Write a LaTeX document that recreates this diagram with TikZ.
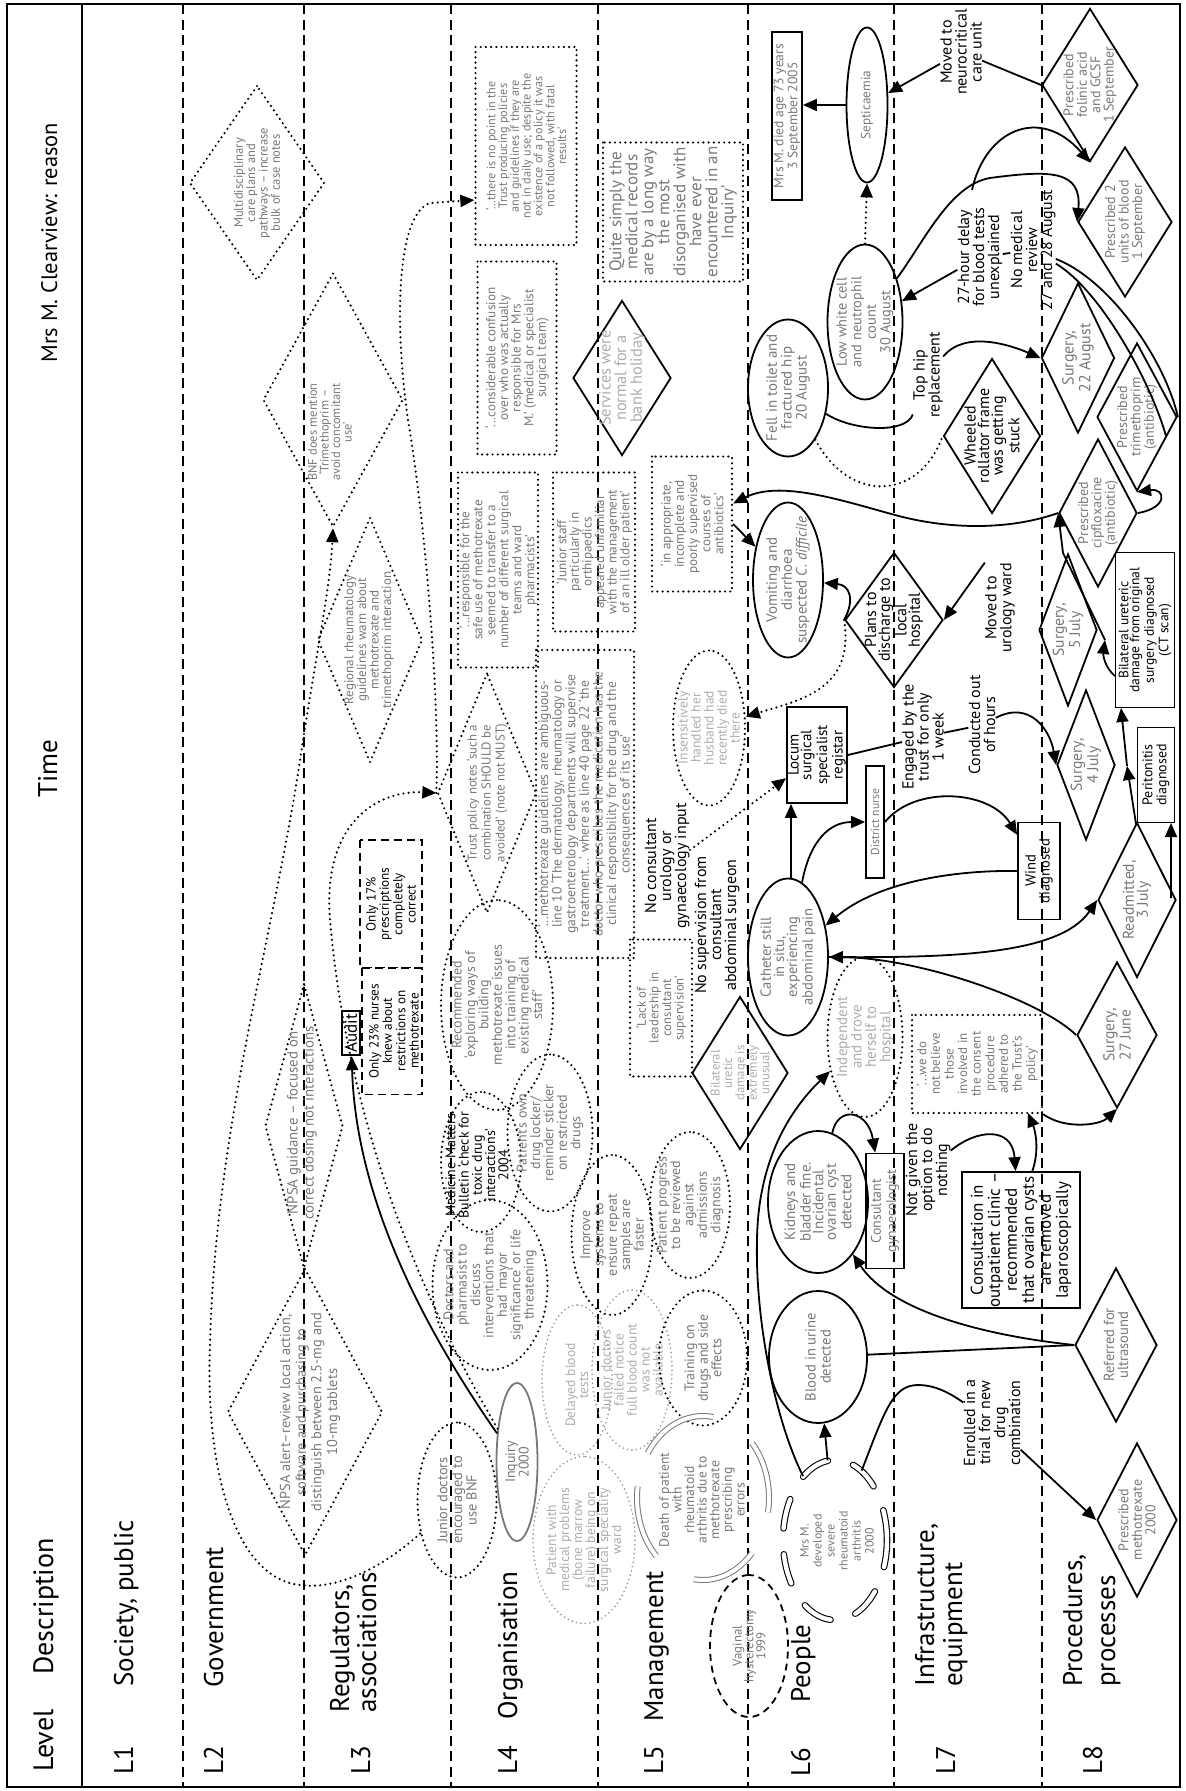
\documentclass[tikz,border=0pt]{standalone}
\usepackage{fontspec}
\setmainfont{PT Sans}
\usetikzlibrary{arrows.meta,shapes.geometric,calc}
\definecolor{tgray}{HTML}{787878}
\definecolor{tlight}{HTML}{ADADAD}
\newcommand\fsz[2]{\fontsize{#1}{#2}\selectfont}
\begin{document}
\begin{tikzpicture}[x=0.5pt,y=-0.5pt,
 every node/.style={rotate=90},
 sz/.style 2 args={minimum width={#2*0.5pt},minimum height={#1*0.5pt}},
 ell/.style={ellipse,inner sep=0pt},
 dia/.style={diamond,inner sep=0pt},
 rec/.style={rectangle,inner sep=0pt},
 sld/.style={draw,line width=0.9pt},
 dtt/.style={draw,line width=1.2pt,line cap=round,dash pattern=on 0pt off 2.6pt},
 ldt/.style={draw=tgray!80,line width=0.9pt,line cap=round,dash pattern=on 0pt off 2.2pt},
 dsh/.style={draw,line width=0.9pt,dash pattern=on 4pt off 2.5pt},
 lane/.style={line width=0.8pt,dash pattern=on 5pt off 2.8pt},
 con/.style={line width=0.9pt},
 arr/.style={-{Triangle[length=7pt,width=6pt]}},
 txt/.style={align=center,inner sep=0pt,font=\fsz{7}{6.8}},
 gtx/.style={txt,text=tgray},
 ltx/.style={txt,text=tlight},
 lbl/.style={txt,font=\fsz{8}{7.5}},
 lvl/.style={inner sep=0pt,font=\fsz{13.5}{14}},
]
\useasboundingbox (0,0) rectangle (1185,1791);
% frame
\draw[line width=1pt] (7,4) rectangle (1180,1787);
\draw[line width=1pt] (82,4) -- (82,1787);
\foreach \x in {183,304,451,598,748,894,1042} \draw[lane] (\x,4) -- (\x,1787);

% headers
\node[lvl,anchor=base west,font=\fsz{11.2}{14}] (hMrs) at (57,363) {Mrs M. Clearview: reason};
\node[lvl,anchor=base west,font=\fsz{13.5}{14}] (hTime) at (57,798) {Time};
\node[lvl,anchor=base west,font=\fsz{14}{14}] (hLevel) at (53,1772) {Level};
\node[lvl,anchor=base west,font=\fsz{14}{14}] (hDesc) at (53,1675) {Description};
% level labels
\node[lvl,anchor=base west] (l1) at (133,1775) {L1};
\node[lvl,anchor=base west] (d1) at (133,1687) {Society, public};
\node[lvl,anchor=base west] (l2) at (223,1775) {L2};
\node[lvl,anchor=base west] (d2) at (223,1688) {Government};
\node[lvl,anchor=base west] (l3) at (370,1775) {L3};
\node[lvl,anchor=base west] (d3a) at (349,1713) {Regulators,};
\node[lvl,anchor=base west] (d3b) at (376,1713) {associations};
\node[lvl,anchor=base west] (l4) at (517,1775) {L4};
\node[lvl,anchor=base west] (d4) at (517,1720) {Organisation};
\node[lvl,anchor=base west] (l5) at (663,1775) {L5};
\node[lvl,anchor=base west] (d5) at (663,1722) {Management};
\node[lvl,anchor=base west] (l6) at (810,1777) {L6};
\node[lvl,anchor=base west] (d6) at (810,1703) {People};
\node[lvl,anchor=base west] (l7) at (955,1775) {L7};
\node[lvl,anchor=base west] (d7a) at (934,1687) {Infrastructure,};
\node[lvl,anchor=base west] (d7b) at (962,1687) {equipment};
\node[lvl,anchor=base west] (l8) at (1102,1775) {L8};
\node[lvl,anchor=base west] (d8a) at (1082,1687) {Procedures,};
\node[lvl,anchor=base west] (d8b) at (1115,1687) {processes};

% ---------- L2/L3 ----------
\node[dia,dtt,sz={135}{195}] (multi) at (257,183) {};
\node[gtx,font=\fsz{6.3}{6.2}] (multiT) at (257,183) {Multidisciplinary\\care plans and\\pathways – increase\\bulk of case notes};
\node[dia,dtt,sz={140}{254}] (bnf) at (333,400) {};
\node[gtx,font=\fsz{6.2}{5.8}] (bnfT) at (330,432) {BNF does mention\\‘Trimethoprim –\\avoid concomitant\\use’};
\node[dia,dtt,sz={105}{245}] (regional) at (370,640) {};
\node[gtx,font=\fsz{6.5}{6.3}] (regionalT) at (369,640) {Regional rheumatology\\guidelines warn about\\methotrexate and\\trimethoprim interaction};
\node[dia,dtt,sz={78}{285}] (npsag) at (304,1126) {};
\node[gtx,font=\fsz{7.4}{8}] (npsagT) at (302,1123) {NPSA guidance – focused on\\correct dosing not interactions};
\node[dia,dtt,sz={155}{287}] (npsaa) at (305,1412) {};
\node[gtx,font=\fsz{7.2}{7.8}] (npsaaT) at (310,1412) {NPSA alert–review local action,\\software and purchasing to\\distinguish between 2.5-mg and\\10-mg tablets};
\node[ell,dtt,sz={79}{155}] (jrbnf) at (457,1500) {};
\node[gtx,font=\fsz{7.2}{7.3}] (jrbnfT) at (457,1500) {Junior doctors\\encouraged to\\use BNF};
\node[ell,draw=tgray,line width=0.9pt,sz={41}{158}] (inquiry) at (517,1462) {};
\node[gtx] (inquiryT) at (517,1462) {Inquiry\\2000};
\node[rec,dsh,sz={62}{128}] (only17) at (391,904) {};
\node[txt,font=\fsz{6.6}{6.7}] (only17T) at (391,904) {Only 17\%\\prescriptions\\completely\\correct};
\node[rec,dsh,sz={60}{127}] (only23) at (392,1031) {};
\node[txt,font=\fsz{6.6}{6.7}] (only23T) at (394,1031) {Only 23\% nurses\\knew about\\restrictions on\\methotrexate};
\node[rec,sld,inner sep=1.5pt,font=\fsz{8.5}{8.5}] (audit) at (351,1033) {Audit};

% ---------- L4 ----------
\node[rec,dtt,sz={101}{198}] (noPoint) at (526,146) {};
\node[gtx,font=\fsz{6.1}{5.9}] (noPointT) at (526,146) {‘...there is no point in the\\Trust producing policies\\and guidelines if they are\\not in daily use; despite the\\existence of a policy it was\\not followed, with fatal\\results’};
\node[rec,dtt,sz={79}{193}] (confusion) at (517,358) {};
\node[gtx,font=\fsz{6.6}{6.3}] (confusionT) at (517,358) {‘...considerable confusion\\over who was actually\\responsible for Mrs\\M.’ (medical or specialist\\surgical team)};
\node[rec,dtt,sz={80}{195}] (respSafe) at (498,570) {};
\node[gtx,font=\fsz{6.6}{6.5}] (respSafeT) at (498,570) {‘...responsible for the\\safe use of methotrexate\\seemed to transfer to a\\number of different surgical\\teams and ward\\pharmacists’};
\node[dia,dtt,sz={99}{240}] (trust) at (487,793) {};
\node[gtx,font=\fsz{6.4}{7}] (trustT) at (487,793) {Trust policy notes ‘such a\\combination SHOULD be\\avoided’ (note not MUST)};
\node[ell,dtt,sz={112}{210}] (recom) at (497,1005) {};
\node[gtx,font=\fsz{7}{6.7}] (recomT) at (497,1005) {Recommended\\‘exploring ways of\\building\\methotrexate issues\\into training of\\existing medical\\staff’};
\node[ell,dtt,sz={80}{140}] (medMat) at (481,1162) {};
\node[txt,font=\fsz{7}{6.6}] (medMatT) at (477,1165) {Medicine Matters\\Bulletin ‘check for\\toxic drug\\interactions’\\2004};
\node[ell,dtt,sz={85}{157}] (ownDrug) at (550,1133) {};
\node[gtx,font=\fsz{7}{6.7}] (ownDrugT) at (550,1133) {Patient’s own\\drug locker/\\reminder sticker\\on restricted\\drugs};
\node[ell,dtt,sz={115}{170}] (doctors) at (490,1285) {};
\node[gtx,font=\fsz{7}{6.7}] (doctorsT) at (490,1285) {Doctors and\\pharmasist to\\discuss\\interventions that\\had ‘mayor\\significance’ or life\\threatening};
\node[ell,ldt,sz={102}{167}] (patMed) at (584,1540) {};
\node[ltx,font=\fsz{6.8}{6.5}] (patMedT) at (584,1540) {Patient with\\medical problems\\(bone marrow\\failure) being on\\surgical speciality\\ward};
\node[ell,ldt,sz={70}{150}] (delayed) at (577,1380) {};
\node[ltx,font=\fsz{6.8}{6.5}] (delayedT) at (577,1385) {Delayed blood\\tests};
\node[ell,ldt,sz={80}{160}] (jrFail) at (632,1370) {};
\node[ltx,font=\fsz{6.8}{6.5}] (jrFailT) at (632,1370) {Junior doctors\\failed notice\\full blood count\\was not\\available};
\node[ell,dtt,sz={81}{160}] (improve) at (612,1235) {};
\node[gtx,font=\fsz{7}{6.7}] (improveT) at (612,1235) {Improve\\systems to\\ensure repeat\\samples are\\faster};
\node[ell,dtt,sz={80}{146}] (progress) at (690,1205) {};
\node[gtx,font=\fsz{7}{6.7}] (progressT) at (690,1205) {Patient progress\\to be reviewed\\against\\admissions\\diagnosis};
\node[ell,dtt,sz={88}{135}] (training) at (703,1358) {};
\node[gtx,font=\fsz{7}{6.7}] (trainingT) at (703,1358) {Training on\\drugs and side\\effects};
% death of patient (double gray arcs)
\foreach \a/\b in {81/147,172/225,262/318,-10/42}
  \draw[tgray,line width=0.5pt,double=white,double distance=2pt] plot[domain=\a:\b,samples=25,smooth] ({703+66*cos(\x)},{1498-82*sin(\x)});
\node[gtx,font=\fsz{6.8}{6.3}] (deathT) at (702,1500) {Death of patient\\with\\rheumatoid\\arthritis due to\\methotrexate\\prescribing\\errors};
\node[ell,draw,line width=0.9pt,dash pattern=on 3.5pt off 2.5pt,sz={78}{142}] (vaginal) at (749,1646) {};
\node[gtx,font=\fsz{6.4}{5.9}] (vaginalT) at (749,1646) {Vaginal\\hysterectomy\\1999};

% ---------- L5 ----------
\node[rec,dtt,sz={98}{308}] (methGuide) at (585,804) {};
\node[gtx,font=\fsz{6.8}{6.8}] (methGuideT) at (585,804) {‘...methotrexate guidelines are ambiguous-\\line 10 ‘The dermatology, rheumatology or\\gastroenterology departments will supervise\\treatment...’ where as line 40 page 22 ‘the\\doctor who prescribes the medication has the\\clinical responsibility for the drug and the\\consequences of its use’};
\node[rec,dtt,sz={82}{159}] (juniorStaff) at (594,552) {};
\node[gtx,font=\fsz{6.6}{6.3}] (juniorStaffT) at (594,552) {‘Junior staff\\particularly in\\orthipaedics\\appeared unfamiliar\\with the management\\of an ill older patient’};
\node[dia,sld,sz={98}{155}] (services) at (622,378) {};
\node[ltx,font=\fsz{8.2}{7.8}] (servicesT) at (622,378) {Services were\\normal for a\\bank holiday};
\node[rec,dtt,sz={140}{139}] (quite) at (673,212) {};
\node[gtx,font=\fsz{8.5}{8}] (quiteT) at (673,212) {Quite simply the\\medical records\\are by a long way\\the most\\disorganised with\\have ever\\encountered in an\\Inquiry’};
\node[rec,dtt,sz={80}{135}] (inapp) at (692,524) {};
\node[gtx,font=\fsz{6.6}{6.6}] (inappT) at (692,524) {‘in appropriate,\\incomplete and\\poorly supervised\\courses of\\antibiotics’};
\node[rec,dtt,sz={62}{137}] (lack) at (661,1008) {};
\node[gtx,font=\fsz{6.4}{6.3}] (lackT) at (661,1008) {‘Lack of\\leadership in\\consultant\\supervision’};
\node[lbl] (noCons) at (667,866) {No consultant\\urology or\\gynaecology input};
\node[lbl] (noSup) at (717,925) {No supervision from\\consultant\\abdominal surgeon};
\node[ell,dtt,sz={72}{155}] (insens) at (709,728) {};
\node[ltx,font=\fsz{6.8}{6.5}] (insensT) at (709,728) {Insensitively\\handled her\\husband had\\recently died\\there};
\node[dia,sld,sz={96}{153}] (bilatUn) at (740,1073) {};
\node[ltx,font=\fsz{6.4}{6.2}] (bilatUnT) at (740,1073) {Bilateral\\uretic\\damage is\\extremely\\unusual};

% ---------- L6 ----------
\node[rec,sld,sz={30}{168}] (died) at (787,116) {};
\node[gtx,font=\fsz{6.8}{7}] (diedT) at (787,116) {Mrs M. died age 73 years\\3 September 2005};
\node[ell,sld,sz={41}{155}] (septic) at (867,105) {};
\node[gtx,font=\fsz{6.6}{6.6}] (septicT) at (867,105) {Septicaemia};
\node[ell,sld,sz={75}{155}] (lowWhite) at (865,322) {};
\node[gtx,font=\fsz{7.2}{7.3}] (lowWhiteT) at (865,322) {Low white cell\\and neutrophil\\count\\30 August};
\node[ell,sld,sz={80}{137}] (fell) at (788,388) {};
\node[gtx,font=\fsz{7.5}{7.4}] (fellT) at (788,388) {Fell in toilet and\\fractured hip\\20 August};
\node[ell,sld,sz={70}{155}] (vomit) at (788,580) {};
\node[gtx,font=\fsz{7.5}{7.4}] (vomitT) at (788,580) {Vomiting and\\diarrhoea\\suspected \textit{C. difficile}};
\node[dia,sld,sz={98}{135}] (plans) at (894,620) {};
\node[txt,font=\fsz{8}{6.8}] (plansT) at (894,620) {Plans to\\discharge to\\local\\hospital};
\node[rec,sld,sz={60}{96}] (locum) at (817,755) {};
\node[txt,font=\fsz{7.5}{6.3}] (locumT) at (817,755) {Locum\\surgical\\specialist\\registar};
\node[rec,sld,sz={18}{112}] (district) at (875,822) {};
\node[gtx,font=\fsz{5.8}{6}] (districtT) at (875,822) {District nurse};
\node[ell,sld,sz={80}{157}] (catheter) at (788,957) {};
\node[gtx,font=\fsz{7.3}{6.6}] (catheterT) at (788,957) {Catheter still\\in situ,\\experiencing\\abdominal pain};
\node[ell,dtt,sz={75}{160}] (indep) at (865,1037) {};
\node[ltx,font=\fsz{7.5}{7.2}] (indepT) at (865,1037) {Independent\\and drove\\herself to\\hospital};
\node[ell,sld,sz={100}{142}] (kidneys) at (818,1202) {};
\node[gtx,font=\fsz{7.5}{6.3}] (kidneysT) at (818,1202) {Kidneys and\\bladder fine.\\Incidental\\ovarian cyst\\detected};
\node[rec,sld,sz={38}{115}] (consGyn) at (885,1211) {};
\node[gtx,font=\fsz{7}{7.6}] (consGynT) at (885,1211) {Consultant\\gynaecologist};
\node[ell,sld,sz={98}{132}] (blood) at (818,1357) {};
\node[gtx,font=\fsz{7.3}{7.5}] (bloodT) at (818,1357) {Blood in urine\\detected};
\node[ell,sz={105}{160}] (mrsM) at (835,1540) {};
\draw[line width=0.55pt,double=white,double distance=2.2pt,line cap=round,dash pattern=on 15pt off 13pt] plot[domain=0:360,samples=73,smooth] ({835+52*cos(\x)},{1540-80*sin(\x)});
\node[gtx,font=\fsz{6}{6.5}] (mrsMT) at (837,1541) {Mrs M.\\developed\\severe\\rheumatoid\\arthritis\\2000};

% ---------- L7 ----------
\node[lbl] (neuroLbl) at (961,52) {Moved to\\neurocritical\\care unit};
\node[lbl] (delayLbl) at (980,257) {27-hour delay\\for blood tests\\unexplained};
\node[lbl] (noRevLbl) at (1033,250) {No medical\\review\\27 and 28 August};
\node[lbl] (topHipLbl) at (928,375) {Top hip\\replacement};
\node[dia,sld,sz={97}{155}] (wheeled) at (992,436) {};
\node[txt,font=\fsz{8}{6.8}] (wheeledT) at (992,436) {Wheeled\\rollator frame\\was getting\\stuck};
\node[lbl] (urologyLbl) at (1000,608) {Moved to\\urology ward};
\node[lbl] (engagedLbl) at (923,737) {Engaged by the\\trust for only\\1 week};
\node[lbl] (conductedLbl) at (982,725) {Conducted out\\of hours};
\node[rec,sld,sz={42}{97}] (wind) at (1039,871) {};
\node[txt,font=\fsz{7.3}{7}] (windT) at (1039,871) {Wind\\diagnosed};
\node[lbl] (notGivenLbl) at (928,1170) {Not given the\\option to do\\nothing};
\node[rec,dtt,sz={130}{98}] (weDoNot) at (977,1064) {};
\node[gtx,font=\fsz{6.5}{6.8}] (weDoNotT) at (977,1064) {‘...we do\\not believe\\those\\involved in\\the consent\\procedure\\adhered to\\the Trust’s\\policy’};
\node[rec,sld,sz={118}{136}] (consult) at (1021,1240) {};
\node[txt,font=\fsz{8.5}{8.5}] (consultT) at (1021,1240) {Consultation in\\outpatient clinic –\\recommended\\that ovarian cysts\\are removed\\laparoscopically};
\node[lbl] (enrolledLbl) at (992,1423) {Enrolled in a\\trial for new\\drug\\combination};

% ---------- L8 ----------
\node[dia,sld,sz={96}{153}] (folinic) at (1090,85) {};
\node[gtx,font=\fsz{7}{6.7}] (folinicT) at (1090,85) {Prescribed\\folinic acid\\and GCSF\\1 September};
\node[dia,sld,sz={94}{150}] (units) at (1125,222) {};
\node[gtx,font=\fsz{7}{6.7}] (unitsT) at (1125,222) {Prescribed 2\\units of blood\\1 September};
\node[dia,sld,sz={73}{150}] (surg22) at (1078,358) {};
\node[gtx,font=\fsz{8}{7}] (surg22T) at (1078,358) {Surgery,\\22 August};
\node[dia,sld,sz={80}{148}] (trimeth) at (1137,417) {};
\node[gtx,font=\fsz{7}{6.7}] (trimethT) at (1137,417) {Prescribed\\trimethoprim\\(antibiotic)};
\node[dia,sld,sz={78}{148}] (cipflox) at (1098,513) {};
\node[gtx,font=\fsz{7}{6.7}] (cipfloxT) at (1098,513) {Prescribed\\cipfloxacine\\(antibiotic)};
\node[dia,sld,sz={58}{152}] (surg5) at (1068,630) {};
\node[gtx,font=\fsz{7.8}{6.8}] (surg5T) at (1068,630) {Surgery,\\5 July};
\node[rec,sld,sz={59}{155}] (bilat) at (1145,630) {};
\node[txt,font=\fsz{6.8}{5.5}] (bilatT) at (1145,630) {Bilateral ureteric\\damage from original\\surgery diagnosed\\(CT scan)};
\node[dia,sld,sz={58}{150}] (surg4) at (1086,765) {};
\node[gtx,font=\fsz{7.8}{6.8}] (surg4T) at (1086,765) {Surgery,\\4 July};
\node[rec,sld,sz={37}{95}] (perit) at (1156,775) {};
\node[txt,font=\fsz{7}{7}] (peritT) at (1156,775) {Peritonitis\\diagnosed};
\node[dia,sld,sz={78}{155}] (readm) at (1137,900) {};
\node[gtx,font=\fsz{7.8}{7}] (readmT) at (1137,900) {Readmitted,\\3 July};
\node[dia,sld,sz={80}{146}] (surg27) at (1117,1035) {};
\node[gtx,font=\fsz{7.8}{7}] (surg27T) at (1117,1035) {Surgery,\\27 June};
\node[dia,sld,sz={82}{154}] (referred) at (1116,1345) {};
\node[gtx,font=\fsz{7.3}{7}] (referredT) at (1116,1345) {Referred for\\ultrasound};
\node[dia,sld,sz={80}{154}] (presMeth) at (1137,1520) {};
\node[gtx,font=\fsz{7}{6.7}] (presMethT) at (1137,1520) {Prescribed\\methotrexate\\2000};

% ---------- connectors ----------
\draw[dtt,arr] (jrbnf) .. controls (380,1570) and (335,1590) .. (300,1585) .. controls (235,1578) and (205,1470) .. (210,1345) .. controls (215,1130) and (275,930) .. (300,760) .. controls (315,660) and (330,590) .. (bnf.west);
\coordinate (npIn) at ($(noPoint.north)+(0,54)$);
\draw[dtt,arr] (trust.north) .. controls (440,700) and (425,520) .. (408,420) .. controls (395,330) and (395,215) .. (430,203) -- (npIn);
\draw[dtt,arr] (inquiry) .. controls (440,1330) and (350,1150) .. (330,920) .. controls (322,820) and (380,790) .. (trust.north);
\draw[con,arr] (inquiry) .. controls (425,1330) and (356,1200) .. (audit);
\draw[dtt,arr] (plans.north) .. controls (855,690) and (800,700) .. (insens);
\coordinate (supEnd) at (690,850);
\draw[dtt,arr] (supEnd) -- (locum);

\draw[con,arr] (septic.north) -- (septic.north -| died.south);
\draw[dtt,arr] (lowWhite.east) -- (septic.west);
\draw[con] (folinic.north) -- (neuroLbl);
\draw[con,arr] (neuroLbl) -- (septic);
\draw[con,arr] (delayLbl) -- (lowWhite);
\draw[con] (delayLbl) -- (noRevLbl);
\draw[con,arr] (lowWhite) .. controls (925,240) and (950,185) .. (990,178) .. controls (1050,170) and (1082,170) .. (units.north);
\coordinate (brA) at (972,190);
\draw[con,arr] (brA) .. controls (985,130) and (1040,105) .. (folinic.west);
\draw[con] (noRevLbl) .. controls (1110,280) and (1165,360) .. (trimeth.south);
\coordinate (trE) at (1166,436);
\draw[con] (noRevLbl) .. controls (1100,290) and (1150,380) .. (trE);
\draw[con,arr] (cipflox.south) .. controls (1168,508) and (1166,488) .. (trimeth.west);
\draw[con] (fell) .. controls (850,430) and (905,435) .. (topHipLbl);
\draw[con,arr] (topHipLbl) .. controls (965,330) and (1010,345) .. (surg22.north);
\draw[dtt] (fell) .. controls (850,505) and (920,500) .. (wheeled.north);
\draw[con,arr] (cipflox.north) .. controls (1010,530) and (950,530) .. (895,515) .. controls (840,500) and (780,480) .. (inapp);
\draw[con,arr] (inapp.south) -- (vomit);
\draw[con,arr] (plans.north) .. controls (855,600) and (850,585) .. (vomit);
\draw[con,arr] (urologyLbl.north east) -- (plans.south);
\draw[con,arr] ($(catheter.east)+(3,0)$) -- ($(catheter.east |- locum.west)+(3,0)$);
\draw[con,arr] (catheter) .. controls (810,840) and (830,822) .. (district.north);
\draw[con,arr] (district.south) .. controls (915,785) and (990,790) .. (wind);
\draw[con,arr] (wind.north) .. controls (960,870) and (880,880) .. (catheter);
\draw[con,arr] (surg27.north) .. controls (1040,1000) and (920,958) .. (catheter.south);
\draw[con,arr] (catheter.south) .. controls (950,958) and (1060,955) .. (readm.north);
\draw[con,arr] (weDoNot.south west) .. controls (1065,1130) and (1100,1125) .. (surg27.west);
\coordinate (cA) at (1032,1172);
\coordinate (cB) at (1028,1113);
\draw[con,arr] (cA) .. controls (1040,1150) and (1035,1130) .. (cB);
\draw[con,arr] (notGivenLbl) .. controls (975,1130) and (1012,1125) .. (consult);
\draw[con,arr] (kidneys) .. controls (838,1105) and (868,1110) .. (consGyn);
\draw[con,arr] (referred.north) .. controls (980,1335) and (890,1310) .. (kidneys);
\draw[con] (blood) -- (referred.north);
\draw[con,arr] (mrsM) -- (blood);
\draw[con] (mrsM) .. controls (885,1410) and (893,1385) .. (918,1385) .. controls (935,1385) and (950,1393) .. (enrolledLbl);
\draw[con,arr] (enrolledLbl) -- (presMeth.north);
\draw[con,arr] (mrsM) .. controls (775,1420) and (755,1320) .. (757,1240) .. controls (758,1160) and (790,1110) .. (indep);
\draw[con] (locum.south) -- (engagedLbl);
\draw[con] (engagedLbl) -- (conductedLbl);
\draw[con,arr] (conductedLbl) .. controls (1030,700) and (1050,730) .. (surg4.north);
\coordinate (rA) at (1171,898);
\coordinate (rB) at (1171,823);
\draw[con,arr] (rA) -- (rB);
\coordinate (bA) at (1136,824);
\coordinate (bM) at (1127,766);
\coordinate (bB) at (1121,708);
\draw[con,arr] (bA) -- (bM);
\draw[con,arr] (bM) -- (bB);
\coordinate (cpA) at (1115,676);
\coordinate (cpM) at (1105,640);
\coordinate (cpB) at (1063,553);
\draw[con,arr] (cpA) .. controls (1105,668) and (1103,655) .. (cpM);
\draw[con,arr] (cpM) -- (cpB) -- (cipflox.north);
\end{tikzpicture}
\end{document}
